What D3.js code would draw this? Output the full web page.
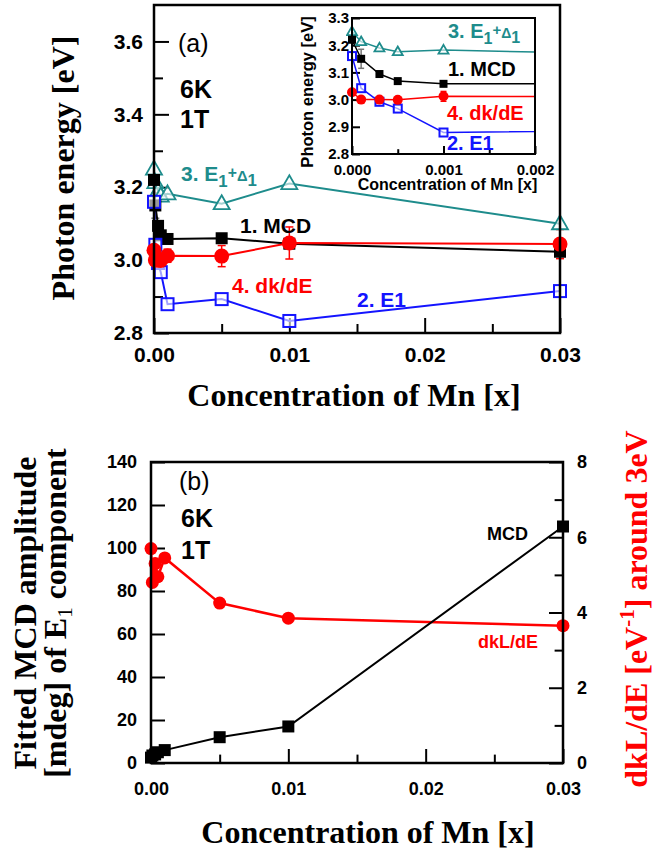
<!DOCTYPE html>
<html>
<head>
<meta charset="utf-8">
<script src="https://cdn.jsdelivr.net/npm/d3@7"></script>
<style>
  html, body { margin: 0; padding: 0; background: #fff; }
  svg text { font-family: "Liberation Sans", Arial, sans-serif; }
  .serif { font-family: "Liberation Serif", "Times New Roman", serif !important; font-weight: bold; }
</style>
</head>
<body>
<div id="chart"></div>
<script>
// Mn concentration series: energies (a) and amplitudes (b)

const conc = [0, 0.0001, 0.0003, 0.0005, 0.001, 0.005, 0.01, 0.03];

// panel (a) photon energies [eV]
const mcdE = [3.22, 3.15, 3.094, 3.068, 3.058, 3.06, 3.045, 3.023];
const e1E = [3.16, 3.042, 2.992, 2.967, 2.879, 2.893, 2.833, 2.915];
const e1d1E = [3.25, 3.213, 3.19, 3.176, 3.182, 3.155, 3.21, 3.10];
const dkdeE = [3.027, 3.0, 3.0, 2.999, 3.012, 3.011, 3.047, 3.044];
const dkdeErr = [0.008, 0, 0, 0, 0.018, 0.029, 0.044, 0.04];
const mcdErr = [0, 0.035, 0, 0, 0, 0, 0, 0];

// panel (b)
const mcdAmp = [2.5, 3.5, 4, 5, 6, 12, 17, 110];
const dkLdE = [5.7, 4.8, 5.3, 4.95, 5.45, 4.25, 3.85, 3.65];

const xTicksMain = [0, 0.01, 0.02, 0.03];
const xTicksInset = [0, 0.001, 0.002];

const teal = '#1e8c8c', red = '#ff0000', blue = '#1414ff';

const svg = d3.select('#chart').append('svg')
  .attr('width', 661).attr('height', 855);

function pts(vals) { return conc.map((c, i) => [c, vals[i]]); }

// inward ticks, major + minor
function addAxis(g, axisFn, scale, major, minor, len, fontSize, pad, fmt, shift) {
  const a = g.append('g').attr('transform', shift || null)
    .call(axisFn(scale).tickValues(major).tickSize(-len).tickPadding(pad).tickFormat(fmt));
  a.select('.domain').remove();
  a.selectAll('line').attr('stroke', '#000').attr('stroke-width', 2);
  a.selectAll('text').style('font-size', fontSize + 'px').style('font-weight', 'bold').attr('fill', '#000');
  if (minor) {
    const m = g.append('g').attr('transform', shift || null)
      .call(axisFn(scale).tickValues(minor).tickSize(-len * 0.6).tickFormat(''));
    m.select('.domain').remove();
    m.selectAll('line').attr('stroke', '#000').attr('stroke-width', 2);
  }
}

function tri(cx, cy, s) {
  const h = s * 0.87;
  return `M${cx},${cy - h * 0.6}L${cx + s / 2},${cy + h * 0.4}L${cx - s / 2},${cy + h * 0.4}Z`;
}

function drawSeries(g, x, y, sz, clip) {
  const line = d3.line().x(d => x(d[0])).y(d => y(d[1]));
  const lg = g.append('g').attr('clip-path', clip || null);

  // error bars
  const errs = [[mcdE, mcdErr, '#777'], [dkdeE, dkdeErr, red]];
  errs.forEach(([vals, err, col]) => {
    conc.forEach((c, i) => {
      if (!err[i]) return;
      const cx = x(c);
      lg.append('line').attr('x1', cx).attr('x2', cx)
        .attr('y1', y(vals[i] - err[i])).attr('y2', y(vals[i] + err[i]))
        .attr('stroke', col).attr('stroke-width', 1.5);
      [vals[i] - err[i], vals[i] + err[i]].forEach(v => {
        lg.append('line').attr('x1', cx - sz.cap).attr('x2', cx + sz.cap)
          .attr('y1', y(v)).attr('y2', y(v)).attr('stroke', col).attr('stroke-width', 1.5);
      });
    });
  });

  lg.append('path').attr('d', line(pts(e1d1E))).attr('fill', 'none').attr('stroke', teal).attr('stroke-width', sz.lw);
  lg.append('path').attr('d', line(pts(mcdE))).attr('fill', 'none').attr('stroke', '#000').attr('stroke-width', sz.lw);
  lg.append('path').attr('d', line(pts(e1E))).attr('fill', 'none').attr('stroke', blue).attr('stroke-width', sz.lw);
  lg.append('path').attr('d', line(pts(dkdeE))).attr('fill', 'none').attr('stroke', red).attr('stroke-width', sz.lw);

  pts(e1d1E).forEach(d => {
    lg.append('path').attr('d', tri(x(d[0]), y(d[1]), sz.tri))
      .attr('fill', '#fff').attr('fill-opacity', 0.6).attr('stroke', teal).attr('stroke-width', 1.8);
  });
  pts(mcdE).forEach(d => {
    lg.append('rect').attr('x', x(d[0]) - sz.sq / 2).attr('y', y(d[1]) - sz.sq / 2)
      .attr('width', sz.sq).attr('height', sz.sq).attr('fill', '#000');
  });
  pts(e1E).forEach(d => {
    lg.append('rect').attr('x', x(d[0]) - sz.sq / 2).attr('y', y(d[1]) - sz.sq / 2)
      .attr('width', sz.sq).attr('height', sz.sq).attr('fill', '#fff').attr('fill-opacity', 0.6)
      .attr('stroke', blue).attr('stroke-width', 2);
  });
  pts(dkdeE).forEach(d => {
    lg.append('circle').attr('cx', x(d[0])).attr('cy', y(d[1])).attr('r', sz.r).attr('fill', red);
  });
}

function labelE1D1(g, xx, yy, fs) {
  const t = g.append('text').attr('x', xx).attr('y', yy).attr('fill', teal)
    .style('font-size', fs + 'px').style('font-weight', 'bold');
  t.append('tspan').text('3. E');
  t.append('tspan').text('1').style('font-size', (fs * 0.8) + 'px').attr('dy', 6);
  t.append('tspan').text('+').style('font-size', (fs * 0.75) + 'px').attr('dy', -9);
  t.append('tspan').text('Δ').style('font-size', (fs * 0.7) + 'px').attr('dy', 3);
  t.append('tspan').text('1').style('font-size', (fs * 0.8) + 'px').attr('dy', 5);
}

function plainLabel(g, xx, yy, txt, col, fs, weight) {
  g.append('text').attr('x', xx).attr('y', yy).attr('fill', col)
    .style('font-size', fs + 'px').style('font-weight', weight || 'bold').text(txt);
}

// ---------- panel (a) ----------
const aW = 406, aH = 328;
const ga = svg.append('g').attr('transform', 'translate(154,5)');
const xa = d3.scaleLinear().domain([0, 0.03]).range([0, aW]);
const ya = d3.scaleLinear().domain([2.8, 3.7]).range([aH, 0]);

addAxis(ga, d3.axisLeft, ya, [2.8, 3.0, 3.2, 3.4, 3.6], [2.9, 3.1, 3.3, 3.5], 15, 21, 11, d3.format('.1f'));
addAxis(ga, d3.axisBottom, xa, xTicksMain, [0.005, 0.015, 0.025], 15, 21, 14, d => d === 0 ? '0.00' : d3.format('.2f')(d), `translate(0,${aH})`);

drawSeries(ga, xa, ya, { lw: 2, tri: 16, sq: 12, r: 7.5, cap: 4 });

ga.append('rect').attr('width', aW).attr('height', aH).attr('fill', 'none').attr('stroke', '#000').attr('stroke-width', 2.5);

plainLabel(ga, 24, 47, '(a)', '#000', 25, 'normal');
plainLabel(ga, 26, 93, '6K', '#000', 25);
plainLabel(ga, 26, 123, '1T', '#000', 25);

labelE1D1(ga, 27, 176, 21);
plainLabel(ga, 86, 228, '1. MCD', '#000', 21);
plainLabel(ga, 78, 288, '4. dk/dE', red, 21);
plainLabel(ga, 203, 302, '2. E1', blue, 21);

// inset
const iW = 183, iH = 136;
const gi = svg.append('g').attr('transform', 'translate(352,18)');
gi.append('rect').attr('width', iW).attr('height', iH).attr('fill', '#fff');
const xi = d3.scaleLinear().domain([0, 0.002]).range([0, iW]);
const yi = d3.scaleLinear().domain([2.8, 3.3]).range([iH, 0]);

svg.append('defs').append('clipPath').attr('id', 'insetClip')
  .append('rect').attr('x', -6).attr('y', 0).attr('width', iW + 6).attr('height', iH);

addAxis(gi, d3.axisLeft, yi, [2.8, 2.9, 3.0, 3.1, 3.2, 3.3], null, 8, 15, 3, d3.format('.1f'));
addAxis(gi, d3.axisBottom, xi, xTicksInset, [0.0005, 0.0015], 8, 15, 10, d3.format('.3f'), `translate(0,${iH})`);

drawSeries(gi, xi, yi, { lw: 1.5, tri: 10, sq: 8, r: 5, cap: 3 }, 'url(#insetClip)');

gi.append('rect').attr('width', iW).attr('height', iH).attr('fill', 'none').attr('stroke', '#000').attr('stroke-width', 2);

labelE1D1(gi, 96, 20, 20);
plainLabel(gi, 96, 58, '1. MCD', '#000', 20);
plainLabel(gi, 95, 102, '4. dk/dE', red, 20);
plainLabel(gi, 95, 132, '2. E1', blue, 20);

gi.append('text').attr('x', iW / 2 + 4).attr('y', 172)
  .attr('text-anchor', 'middle').style('font-size', '16px').style('font-weight', 'bold')
  .text('Concentration of Mn [x]');
gi.append('text').attr('transform', `translate(${313 - 352},${74}) rotate(-90)`)
  .attr('text-anchor', 'middle').style('font-size', '16.5px').style('font-weight', 'bold')
  .text('Photon energy [eV]');

// titles (a)
svg.append('text').attr('class', 'serif').attr('x', 354).attr('y', 406)
  .attr('text-anchor', 'middle').style('font-size', '32px').text('Concentration of Mn [x]');
svg.append('text').attr('class', 'serif').attr('transform', 'translate(74,168) rotate(-90)')
  .attr('text-anchor', 'middle').style('font-size', '32px').text('Photon energy [eV]');

// ---------- panel (b) ----------
const bW = 412, bH = 301;
const gb = svg.append('g').attr('transform', 'translate(151,462)');
const xb = d3.scaleLinear().domain([0, 0.03]).range([0, bW]);
const yb = d3.scaleLinear().domain([0, 140]).range([bH, 0]);
const yb2 = d3.scaleLinear().domain([0, 8]).range([bH, 0]);

addAxis(gb, d3.axisLeft, yb, d3.range(0, 141, 20), null, 14, 18, 14, d3.format('d'));
addAxis(gb, d3.axisRight, yb2, [0, 2, 4, 6, 8], [1, 3, 5, 7], 14, 18, 14, d3.format('d'), `translate(${bW},0)`);
addAxis(gb, d3.axisBottom, xb, xTicksMain, [0.005, 0.015, 0.025], 14, 18, 19, d => d === 0 ? '0.00' : d3.format('.2f')(d), `translate(0,${bH})`);

const lineB = d3.line().x(d => xb(d[0])).y(d => yb(d[1]));
const lineB2 = d3.line().x(d => xb(d[0])).y(d => yb2(d[1]));

gb.append('path').attr('d', lineB2(pts(dkLdE))).attr('fill', 'none').attr('stroke', red).attr('stroke-width', 2.5);
gb.append('path').attr('d', lineB(pts(mcdAmp))).attr('fill', 'none').attr('stroke', '#000').attr('stroke-width', 2);

pts(dkLdE).forEach(d => {
  gb.append('circle').attr('cx', xb(d[0])).attr('cy', yb2(d[1])).attr('r', 6.5).attr('fill', red);
});
pts(mcdAmp).forEach(d => {
  gb.append('rect').attr('x', xb(d[0]) - 6).attr('y', yb(d[1]) - 6)
    .attr('width', 12).attr('height', 12).attr('fill', '#000');
});

gb.append('rect').attr('width', bW).attr('height', bH).attr('fill', 'none').attr('stroke', '#000').attr('stroke-width', 2.5);

plainLabel(gb, 28, 28, '(b)', '#000', 25, 'normal');
plainLabel(gb, 30, 65, '6K', '#000', 25);
plainLabel(gb, 30, 97, '1T', '#000', 25);
plainLabel(gb, 336, 78, 'MCD', '#000', 18);
plainLabel(gb, 327, 186, 'dkL/dE', red, 18);

// titles (b)
svg.append('text').attr('class', 'serif').attr('x', 368).attr('y', 843)
  .attr('text-anchor', 'middle').style('font-size', '32px').text('Concentration of Mn [x]');

const lt1 = svg.append('text').attr('class', 'serif').attr('transform', 'translate(36,613) rotate(-90)')
  .attr('text-anchor', 'middle').style('font-size', '32px').text('Fitted MCD amplitude');
const lt2 = svg.append('text').attr('class', 'serif').attr('transform', 'translate(66,613) rotate(-90)')
  .attr('text-anchor', 'middle').style('font-size', '32px');
lt2.append('tspan').text('[mdeg] of E');
lt2.append('tspan').text('1').style('font-size', '21px').style('font-weight', 'normal').attr('dy', 6);
lt2.append('tspan').text(' component').attr('dy', -6);

const rt = svg.append('text').attr('class', 'serif').attr('transform', 'translate(647,609) rotate(-90)')
  .attr('text-anchor', 'middle').attr('fill', red).style('font-size', '32px');
rt.append('tspan').text('dkL/dE [eV');
rt.append('tspan').text('-1').style('font-size', '21px').attr('dy', -13);
rt.append('tspan').text('] around 3eV').attr('dy', 13);
</script>
</body>
</html>
